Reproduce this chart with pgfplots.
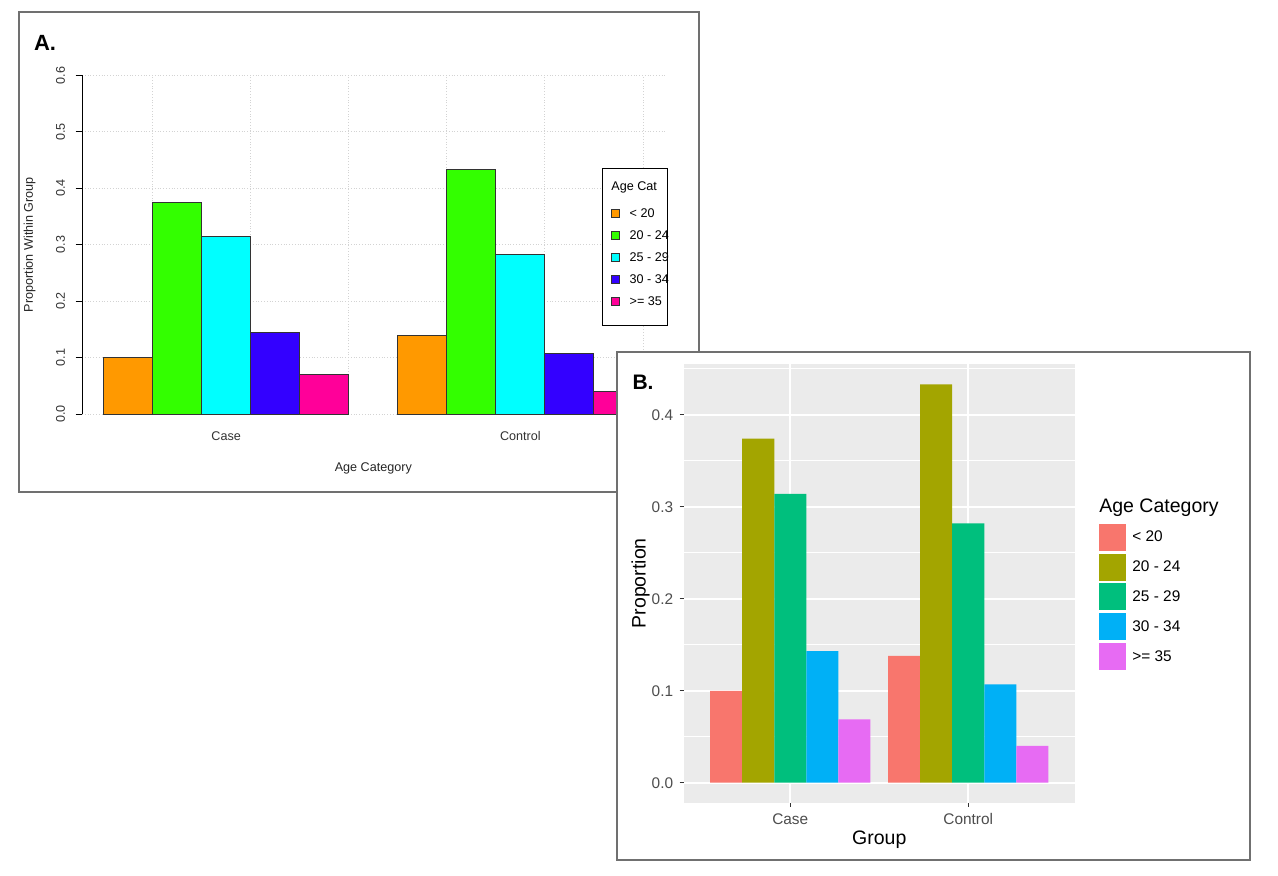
\documentclass[border=0pt]{standalone}
\usepackage{fontspec}
\setmainfont{Liberation Sans}
\usepackage{pgfplots}
\pgfplotsset{compat=1.18}
\definecolor{aorange}{HTML}{FF9900}
\definecolor{agreen}{HTML}{33FF00}
\definecolor{acyan}{HTML}{00FFFF}
\definecolor{ablue}{HTML}{3300FF}
\definecolor{apink}{HTML}{FF0099}
\definecolor{bred}{HTML}{F8766D}
\definecolor{bolive}{HTML}{A3A500}
\definecolor{bgreen}{HTML}{00BF7D}
\definecolor{bblue}{HTML}{00B0F6}
\definecolor{bpink}{HTML}{E76BF3}
\definecolor{panelbg}{HTML}{EBEBEB}
\definecolor{framegray}{HTML}{707070}
\definecolor{ticklab}{HTML}{4D4D4D}
\definecolor{agrid}{HTML}{D3D3D3}
\pgfplotsset{
  abar/.style={ybar, bar shift=0pt, bar width=1, draw=black!80, line width=0.5pt,
    legend image code/.code={\draw[##1, draw=black!80, line width=0.5pt] (0pt,-2pt) rectangle (4pt,2pt);}},
  bbar/.style={ybar, bar shift=0pt, bar width=0.18, draw=none,
    legend image code/.code={\draw[##1, draw=white, line width=0.5pt] (0pt,-7pt) rectangle (14pt,7pt);}},
}
\newcommand{\alab}[1]{\makebox[14.2pt][l]{#1}}
\begin{document}
\begin{tikzpicture}
\path[use as bounding box] (0,0) rectangle (639pt,437.5pt);
% ---------- Panel A ----------
\draw[framegray, line width=0.75pt, fill=white] (9.5pt,191.5pt) rectangle (349.5pt,431.5pt);
\node[font=\bfseries\fontsize{11}{13}\selectfont] at (22.5pt,416pt) {A.};
\begin{axis}[
  at={(41pt,230.5pt)}, anchor=south west,
  scale only axis, width=291.3pt, height=169.35pt,
  xmin=0.56, xmax=12.44, ymin=0, ymax=0.6,
  axis lines=left,
  x axis line style={draw=none},
  y axis line style={-, black, line width=0.5pt},
  tick align=outside, major tick length=3.2pt,
  xtick={3.5,9.5}, xticklabels={Case,Control},
  xtick style={draw=none},
  extra x ticks={2,4,6,8,10,12}, extra x tick labels={},
  extra x tick style={grid=major, major tick length=0pt},
  ytick={0,0.1,0.2,0.3,0.4,0.5,0.6},
  yticklabels={0.0,0.1,0.2,0.3,0.4,0.5,0.6},
  ytick style={black, line width=0.5pt},
  ymajorgrids,
  major grid style={agrid, densely dotted, line width=0.5pt},
  tick label style={font=\fontsize{6.3}{7.5}\selectfont, text=black!80},
  yticklabel style={rotate=90, anchor=center, inner sep=0pt},
  xticklabel style={anchor=center, inner sep=0pt},
  yticklabel shift=7.5pt,
  xticklabel shift=8pt,
  xlabel={Age Category}, ylabel={Proportion Within Group},
  label style={font=\fontsize{6.3}{7.5}\selectfont, text=black!85},
  xlabel style={at={(axis description cs:0.5,-0.1594)}, anchor=center},
  ylabel style={at={(axis description cs:-0.0901,0.5)}, anchor=center, rotate=0},
  legend style={at={(0.892,0.7254)}, anchor=north west, draw=black, line width=0.5pt,
    inner xsep=4.6pt, inner ysep=8.3pt, font=\fontsize{6.3}{7.5}\selectfont,
    row sep=4.5pt, column sep=4.65pt,
    nodes={inner sep=0pt, text height=5pt, text depth=1.5pt}},
  legend cell align=left,
  clip=false,
]
\addlegendimage{empty legend}
\addlegendentry{\hspace*{-9.15pt}\raisebox{2.5pt}{Age Cat}}
\addplot[abar, fill=aorange] coordinates {(1.5,0.100) (7.5,0.139)};
\addlegendentry{\alab{< 20}}
\addplot[abar, fill=agreen] coordinates {(2.5,0.375) (8.5,0.434)};
\addlegendentry{\alab{20 - 24}}
\addplot[abar, fill=acyan] coordinates {(3.5,0.314) (9.5,0.283)};
\addlegendentry{\alab{25 - 29}}
\addplot[abar, fill=ablue] coordinates {(4.5,0.145) (10.5,0.108)};
\addlegendentry{\alab{30 - 34}}
\addplot[abar, fill=apink] coordinates {(5.5,0.070) (11.5,0.040)};
\addlegendentry{\alab{>= 35}}
\end{axis}
% ---------- Panel B ----------
\draw[framegray, line width=0.75pt, fill=white] (308.5pt,7.5pt) rectangle (625pt,261.5pt);
\node[font=\bfseries\fontsize{10.5}{12.5}\selectfont] at (321.5pt,246.25pt) {B.};
\begin{axis}[
  at={(341.75pt,36.15pt)}, anchor=south west,
  scale only axis, width=195.75pt, height=219.5pt,
  xmin=0.4, xmax=2.6, ymin=-0.0217, ymax=0.4555,
  axis background/.style={fill=panelbg},
  axis line style={draw=none},
  xtick={1,2}, xticklabels={Case,Control},
  ytick={0,0.1,0.2,0.3,0.4}, yticklabels={0.0,0.1,0.2,0.3,0.4},
  minor ytick={0.05,0.15,0.25,0.35,0.45},
  xmajorgrids, ymajorgrids, yminorgrids,
  major grid style={white, line width=1pt},
  minor grid style={white, line width=0.5pt},
  tick align=outside, tick pos=left,
  major tick length=2pt, minor tick length=0pt,
  tick style={color=black!80, line width=0.5pt},
  tick label style={font=\fontsize{7.7}{9}\selectfont, text=ticklab, inner sep=0pt},
  xticklabel style={anchor=center},
  yticklabel style={anchor=east},
  xticklabel shift=6pt,
  yticklabel shift=3pt,
  xlabel={Group}, ylabel={Proportion},
  label style={font=\fontsize{9.75}{11}\selectfont},
  xlabel style={at={(axis description cs:0.5,-0.0843)}, anchor=center},
  ylabel style={at={(axis description cs:-0.1098,0.5)}, anchor=center},
  legend style={at={(1.0587,0.7055)}, anchor=north west, draw=none, fill=none,
    inner sep=0pt, row sep=0.4pt, column sep=2.5pt,
    font=\fontsize{7.7}{9}\selectfont,
    nodes={inner sep=0pt, text height=9.5pt, text depth=4.8pt}},
  legend cell align=left,
  clip=false,
]
\addlegendimage{empty legend}
\addlegendentry{\hspace*{-16.5pt}\fontsize{9.75}{11}\selectfont Age Category}
\addplot[bbar, fill=bred] coordinates {(0.64,0.100) (1.64,0.138)};
\addlegendentry{< 20}
\addplot[bbar, fill=bolive] coordinates {(0.82,0.374) (1.82,0.433)};
\addlegendentry{20 - 24}
\addplot[bbar, fill=bgreen] coordinates {(1.00,0.314) (2.00,0.282)};
\addlegendentry{25 - 29}
\addplot[bbar, fill=bblue] coordinates {(1.18,0.143) (2.18,0.107)};
\addlegendentry{30 - 34}
\addplot[bbar, fill=bpink] coordinates {(1.36,0.069) (2.36,0.040)};
\addlegendentry{>= 35}
\end{axis}
\end{tikzpicture}
\end{document}
